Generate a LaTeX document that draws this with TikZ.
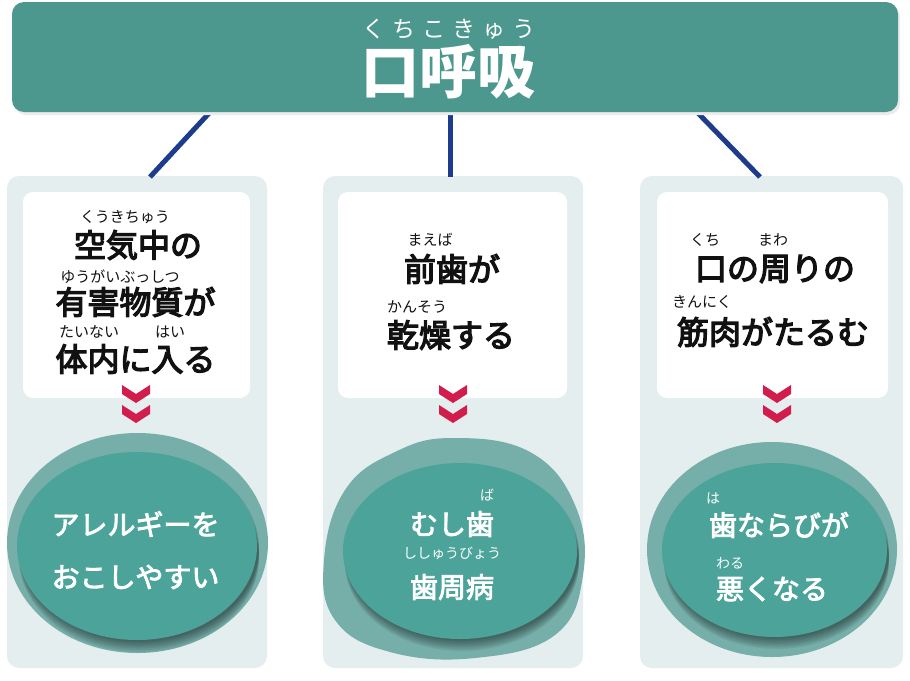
\documentclass[tikz,border=0pt]{standalone}
\usepackage{fontspec}
\newfontfamily\jp{Noto Sans CJK JP}
\newfontfamily\jpm[FakeBold=4]{Noto Sans CJK JP}
\newfontfamily\jpw[FakeBold=3]{Noto Sans CJK JP}
\usetikzlibrary{shapes.geometric,calc}
\definecolor{titleteal}{HTML}{4C988E}
\definecolor{ringteal}{HTML}{76AEA9}
\definecolor{innerteal}{HTML}{4BA39A}
\definecolor{panelbg}{HTML}{E4EEEF}
\definecolor{navy}{HTML}{1E3C8C}
\definecolor{crimson}{HTML}{D21C4C}
\definecolor{ink}{HTML}{111111}
\newcommand\softshadow[4]{%
  \foreach \k in {1,...,7}{%
    \fill[black, opacity=0.07] (#1+2,#2+\k*1.7) ellipse [x radius=#3, y radius=#4];}}
\begin{document}
\begin{tikzpicture}[x=1pt,y=-1pt,
  panel/.style={fill=panelbg, rounded corners=12pt, inner sep=0pt},
  wbox/.style={fill=white, rounded corners=10pt, inner sep=0pt},
  ruby/.style={font=\jp\fontsize{15}{16}\selectfont, text=ink, inner sep=0pt},
  btext/.style={font=\jpm\fontsize{32}{36}\selectfont, text=ink, inner sep=0pt},
  wtext/.style={font=\jpw\fontsize{28}{32}\selectfont, text=white, inner sep=0pt},
  wruby/.style={font=\jp\fontsize{14}{15}\selectfont, text=white, inner sep=0pt},
  link/.style={draw=navy, line width=5pt},
  ring/.style={ellipse, fill=ringteal, inner sep=0pt},
  disc/.style={ellipse, fill=innerteal, inner sep=0pt},
  chevs/.pic={
    \fill[crimson] (-14,0) -- (0,9) -- (14,0) -- (14,9) -- (0,18) -- (-14,9) -- cycle;
    \fill[crimson] (-14,20) -- (0,29) -- (14,20) -- (14,29) -- (0,38) -- (-14,29) -- cycle;}
]
\useasboundingbox (0,0) rectangle (910,680);
\fill[white] (0,0) rectangle (910,680);

% panels
\node[panel, minimum width=260pt, minimum height=492pt] (p1) at (137,422) {};
\node[panel, minimum width=260pt, minimum height=492pt] (p2) at (453,422) {};
\node[panel, minimum width=263pt, minimum height=492pt] (p3) at (771.5,422) {};

% connectors
\coordinate (t1) at (212,110);
\coordinate (t2) at (450,110);
\coordinate (t3) at (695,110);
\coordinate (e1) at (150,177);
\coordinate (e2) at (450,177);
\coordinate (e3) at (760,177);
\draw[link] (t1) -- (e1);
\draw[link] (t2) -- (e2);
\draw[link] (t3) -- (e3);

% title
\fill[black!8, rounded corners=12pt] (14,5) rectangle (900,115);
\node[fill=titleteal, rounded corners=12pt, minimum width=886pt, minimum height=110pt, inner sep=0pt] (title) at (455,57) {};
\node[font=\jp\fontsize{23}{24}\selectfont, text=white, inner sep=0pt] (titleruby) at (449,29)
  {く\hspace{7pt}ち\hspace{7pt}こ\hspace{7pt}き\hspace{7pt}ゅ\hspace{7pt}う};
\node[font=\jp\bfseries\fontsize{58}{62}\selectfont, text=white, inner sep=0pt] (titletext) at (448,72) {口呼吸};

% white boxes
\node[wbox, minimum width=227pt, minimum height=206pt] (b1) at (136.5,295) {};
\node[wbox, minimum width=229pt, minimum height=206pt] (b2) at (452.5,295) {};
\node[wbox, minimum width=231pt, minimum height=206pt] (b3) at (772.5,295) {};

% left box text
\node[ruby] (r11) at (125,217) {くうきちゅう};
\node[btext] (l11) at (138,245) {空気中の};
\node[ruby] (r12) at (120,277) {ゆうがいぶっしつ};
\node[btext] (l12) at (135.5,302) {有害物質が};
\node[ruby] (r13) at (89,332) {たいない};
\node[ruby] (r14) at (170,332) {はい};
\node[btext] (l13) at (135.5,359) {体内に入る};

% middle box text
\node[ruby] (r21) at (430,240) {まえば};
\node[btext] (l21) at (452,269) {前歯が};
\node[ruby] (r22) at (417,307) {かんそう};
\node[btext] (l22) at (451,335) {乾燥する};

% right box text
\node[ruby] (r31) at (705,240) {くち};
\node[ruby] (r32) at (773,240) {まわ};
\node[btext] (l31) at (775,269) {口の周りの};
\node[ruby] (r33) at (702,302) {きんにく};
\node[btext] (l32) at (773,332) {筋肉がたるむ};

% chevrons
\pic (c1) at (136,385) {chevs};
\pic (c2) at (453,385) {chevs};
\pic (c3) at (777,385) {chevs};

% left result
\node[ring, minimum width=261pt, minimum height=220pt] (o1) at (137.5,543) {};
\begin{scope}
  \clip (137.5,543) ellipse [x radius=130.5, y radius=110];
  \softshadow{137}{546}{120}{94}
\end{scope}
\node[disc, minimum width=240pt, minimum height=188pt] (d1) at (137,546) {};
\node[wtext] (w11) at (135.5,524) {アレルギーを};
\node[wtext] (w12) at (135.5,577) {おこしやすい};

% middle result
\fill[ringteal] plot[smooth cycle, tension=0.7] coordinates {
  (453,438) (530,452) (575,505) (583,575) (555,635) (475,658) (390,652) (335,620) (324,560) (345,490) (395,452)};
\begin{scope}
  \clip plot[smooth cycle, tension=0.7] coordinates {
  (453,438) (530,452) (575,505) (583,575) (555,635) (475,658) (390,652) (335,620) (324,560) (345,490) (395,452)};
  \softshadow{460}{551}{117}{88}
\end{scope}
\node[disc, minimum width=234pt, minimum height=176pt] (d2) at (460,551) {};
\node[wruby] (w20) at (487,495) {ば};
\node[wtext] (w21) at (452,524) {むし歯};
\node[wruby] (w22) at (452,553) {ししゅうびょう};
\node[wtext] (w23) at (452,587) {歯周病};

% right result
\node[ring, minimum width=250pt, minimum height=215pt] (o3) at (772,549.5) {};
\begin{scope}
  \clip (772,549.5) ellipse [x radius=125, y radius=107.5];
  \softshadow{774.5}{550}{112.5}{87}
\end{scope}
\node[disc, minimum width=225pt, minimum height=174pt] (d3) at (774.5,550) {};
\node[wruby] (w30) at (713,498) {は};
\node[wtext] (w31) at (779,525) {歯ならびが};
\node[wruby] (w32) at (730,563) {わる};
\node[wtext] (w33) at (772,589) {悪くなる};
\end{tikzpicture}
\end{document}
